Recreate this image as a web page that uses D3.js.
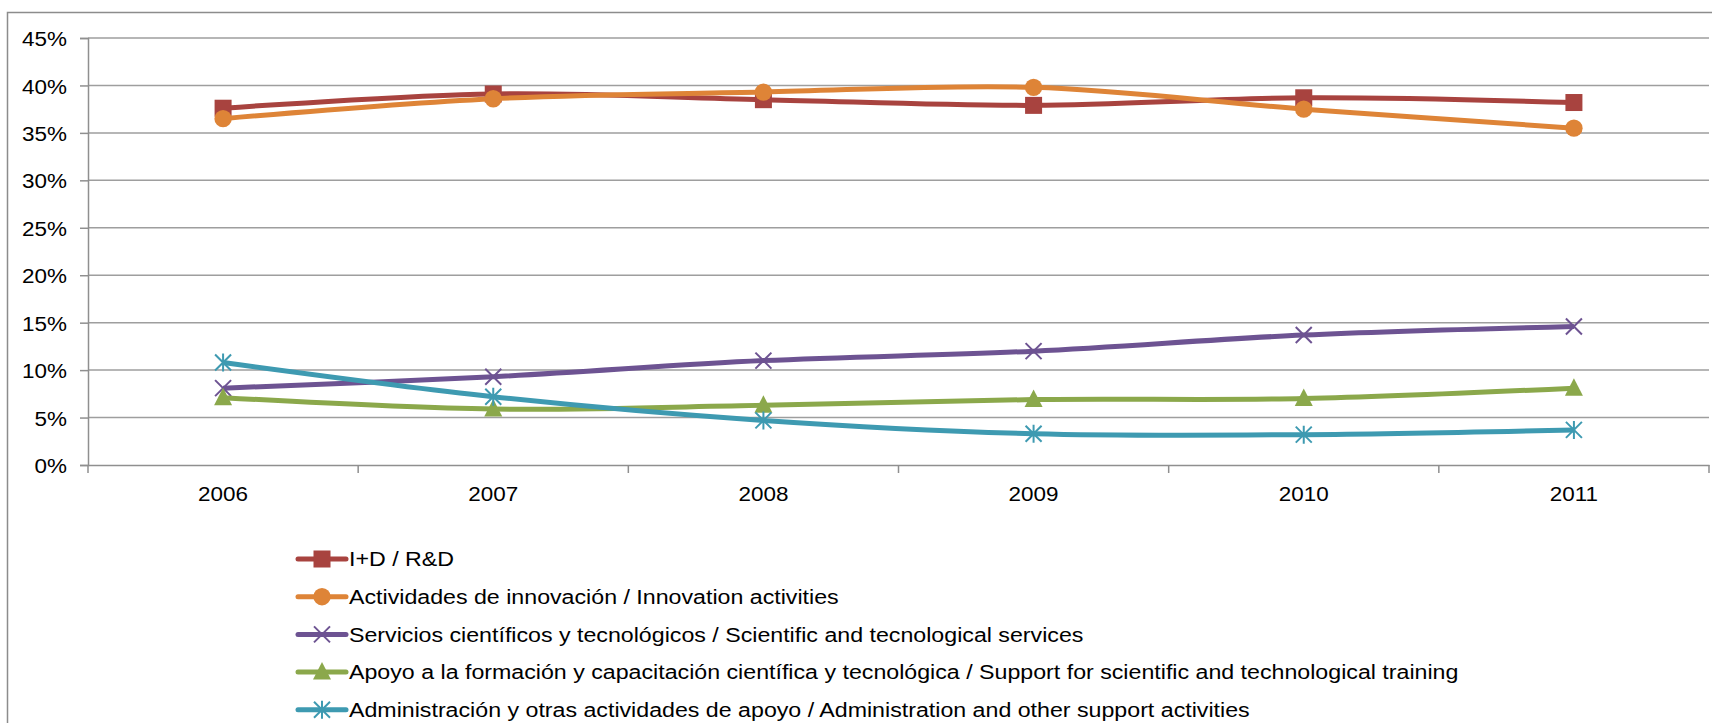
<!DOCTYPE html>
<html><head><meta charset="utf-8">
<script src="https://cdn.jsdelivr.net/npm/d3@7"></script>
<style>body{margin:0;background:#fff;}svg{display:block;}</style>
</head><body>
<svg id="c" width="1712" height="723"></svg>
<script>
const years = ["2006","2007","2008","2009","2010","2011"];
const seriesNames = [
  "I+D / R&D",
  "Actividades de innovación / Innovation activities",
  "Servicios científicos y tecnológicos / Scientific and tecnological services",
  "Apoyo a la formación y capacitación científica y tecnológica / Support for scientific and technological training",
  "Administración y otras actividades de apoyo / Administration and other support activities"
];
const rdValues = [37.6, 39.1, 38.5, 37.9, 38.7, 38.2];
const innovationValues = [36.5, 38.6, 39.3, 39.8, 37.5, 35.5];
const servicesValues = [8.1, 9.3, 11.0, 12.0, 13.7, 14.6];
const trainingValues = [7.1, 5.9, 6.3, 6.9, 7.0, 8.1];
const adminValues = [10.8, 7.2, 4.7, 3.3, 3.2, 3.7];
const yTicks = [0,5,10,15,20,25,30,35,40,45];
const colors = ["#A8433F","#DE8437","#6D5392","#8BA84B","#3E9AB1"];
const markers = ["square","circle","x","triangle","asterisk"];
const allValues = [rdValues, innovationValues, servicesValues, trainingValues, adminValues];

const svg = d3.select("#c");
const L = 88, R = 1709, T = 38, B = 465;
const x = d3.scaleBand().domain(years).range([L, R]).paddingInner(0).paddingOuter(0);
const y = d3.scaleLinear().domain([0,45]).range([B, T]);

// outer border
svg.append("rect").attr("x",7.5).attr("y",12.5).attr("width",1720).attr("height",720)
  .attr("fill","none").attr("stroke","#8c8c8c").attr("stroke-width",1.5);

// gridlines
svg.append("g").selectAll("line").data(yTicks.filter(d=>d>0)).join("line")
  .attr("x1",L).attr("x2",R).attr("y1",d=>y(d)).attr("y2",d=>y(d))
  .attr("stroke","#9e9e9e").attr("stroke-width",1.5);

// y axis
const yAxis = svg.append("g").attr("transform",`translate(${L},0)`)
  .call(d3.axisLeft(y).tickValues(yTicks).tickSize(8).tickFormat(d=>d+"%"));
yAxis.select(".domain").attr("stroke","#8f8f8f").attr("stroke-width",1.5);
yAxis.selectAll(".tick line").attr("stroke","#8f8f8f").attr("stroke-width",1.5);
yAxis.selectAll(".tick text").remove();
const ySx = 1.07;
yAxis.selectAll(".tick").append("text")
  .attr("transform",`scale(${ySx},1)`)
  .attr("x",-21/ySx).attr("dy","0.36em").attr("text-anchor","end")
  .attr("font-family","Liberation Sans, Arial, sans-serif").attr("font-size",21).attr("fill","#000")
  .text(d=>d+"%");

// x axis
const xAxis = svg.append("g").attr("transform",`translate(0,${B})`)
  .call(d3.axisBottom(x).tickSize(0).tickFormat(""));
xAxis.select(".domain").attr("stroke","#8f8f8f").attr("stroke-width",1.5);
const bounds = years.map(d=>x(d)).concat([R]);
xAxis.append("g").selectAll("line").data(bounds).join("line")
  .attr("x1",d=>d).attr("x2",d=>d).attr("y1",0).attr("y2",8)
  .attr("stroke","#8f8f8f").attr("stroke-width",1.5);
xAxis.append("g").selectAll("text").data(years).join("text")
  .attr("transform",d=>`translate(${x(d)+x.bandwidth()/2},28) scale(${ySx},1)`)
  .attr("dy","0.36em").attr("text-anchor","middle")
  .attr("font-family","Liberation Sans, Arial, sans-serif").attr("font-size",21).attr("fill","#000")
  .text(d=>d);

function drawMarker(g, type, color){
  if(type==="square"){
    g.append("rect").attr("x",-8.5).attr("y",-8.5).attr("width",17).attr("height",17).attr("fill",color);
  } else if(type==="circle"){
    g.append("circle").attr("r",8.7).attr("fill",color);
  } else if(type==="triangle"){
    g.append("path").attr("d","M0,-10 L9,7.5 L-9,7.5 Z").attr("fill",color);
  } else if(type==="x"){
    g.append("path").attr("d","M-8,-8 L8,8 M-8,8 L8,-8").attr("stroke",color).attr("stroke-width",2).attr("fill","none");
  } else if(type==="asterisk"){
    g.append("path").attr("d","M-8,-8 L8,8 M-8,8 L8,-8 M0,-9 L0,9").attr("stroke",color).attr("stroke-width",2).attr("fill","none");
  }
}

const line = d3.line().x((d,i)=>x(years[i])+x.bandwidth()/2).y(d=>y(d)).curve(d3.curveCatmullRom.alpha(0));

allValues.forEach((vals,si)=>{
  const g = svg.append("g");
  g.append("path").datum(vals).attr("d",line).attr("fill","none")
    .attr("stroke",colors[si]).attr("stroke-width",5).attr("stroke-linejoin","round");
  vals.forEach((v,i)=>{
    const mg = g.append("g").attr("transform",`translate(${x(years[i])+x.bandwidth()/2},${y(v)})`);
    drawMarker(mg, markers[si], colors[si]);
  });
});

// legend
const legSx = 1.16;
const leg = svg.append("g");
seriesNames.forEach((name,i)=>{
  const cy = 559 + i*37.7;
  const lg = leg.append("g").attr("transform",`translate(0,${cy})`);
  lg.append("line").attr("x1",298).attr("x2",346).attr("y1",0).attr("y2",0)
    .attr("stroke",colors[i]).attr("stroke-width",5).attr("stroke-linecap","round");
  const mg = lg.append("g").attr("transform","translate(322,0)");
  drawMarker(mg, markers[i], colors[i]);
  lg.append("text").attr("transform",`translate(349,0) scale(${legSx},1)`)
    .attr("dy","0.36em")
    .attr("font-family","Liberation Sans, Arial, sans-serif").attr("font-size",20).attr("fill","#000")
    .text(name);
});
</script>
</body></html>
